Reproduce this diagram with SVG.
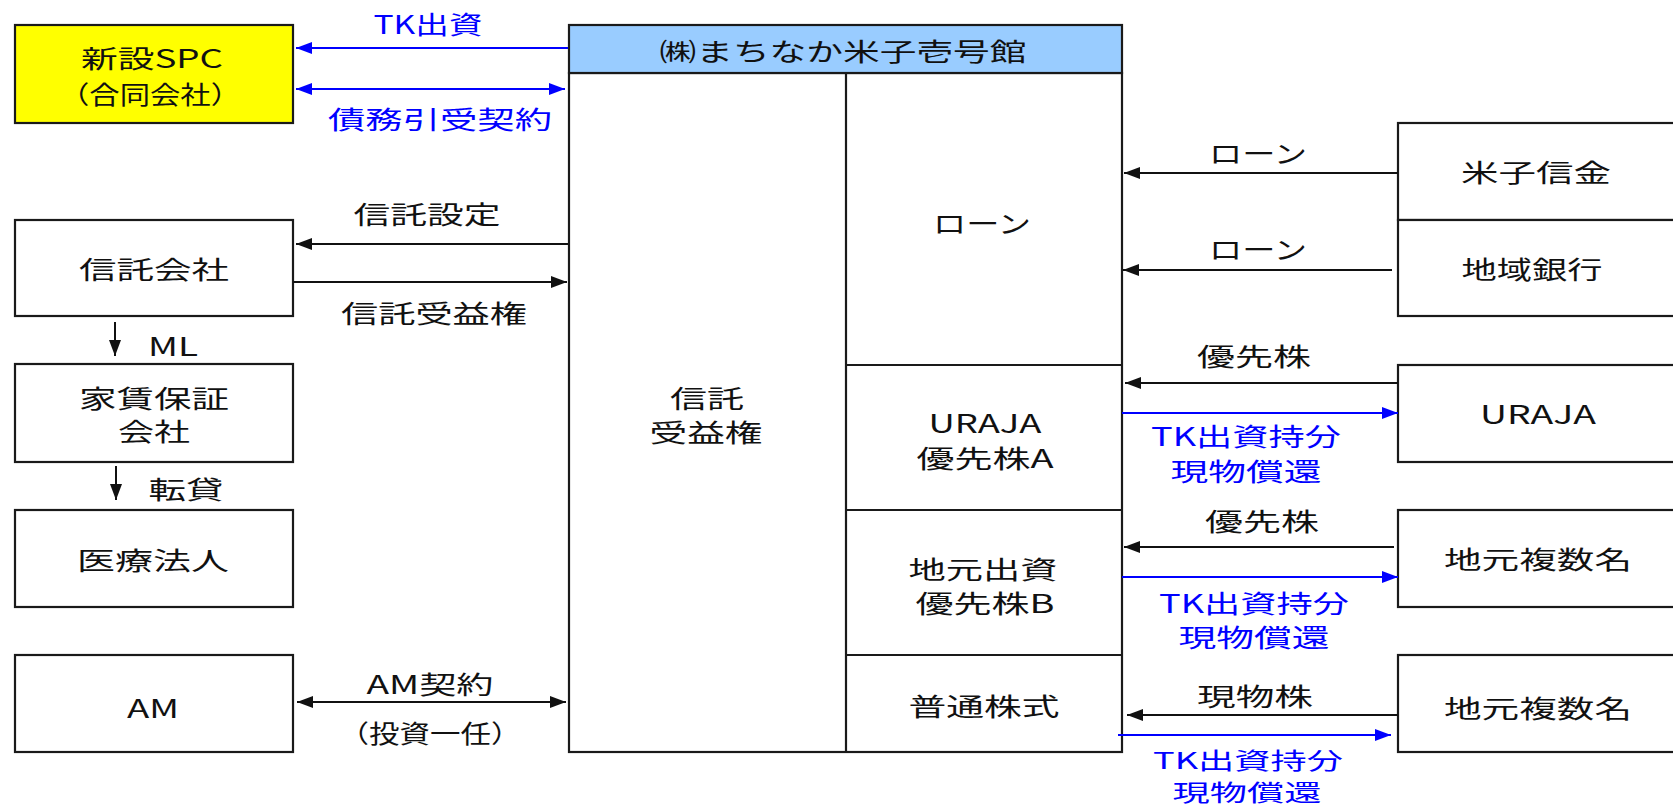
<svg xmlns="http://www.w3.org/2000/svg" width="1673" height="807" viewBox="0 0 1673 807">
<defs>
<style>
.box{fill:#fff;stroke:#1a1a1a;stroke-width:2.2}
.spc{fill:#ffff00;stroke:#1a1a1a;stroke-width:2.2}
.hdr{fill:#99ccff;stroke:#1a1a1a;stroke-width:2.2}
.ln{stroke:#1a1a1a;stroke-width:2.2;fill:none}
.t{font-family:"Noto Sans CJK JP","Noto Sans CJK SC",sans-serif;font-size:25px;fill:#111;text-anchor:middle;dominant-baseline:central}
.s{font-size:23px}
.b{fill:#0000ff}
.ak{stroke:#111;stroke-width:2;fill:none}
.ab{stroke:#0000ff;stroke-width:2;fill:none}
</style>
<marker id="mk" viewBox="0 0 16 12" refX="16" refY="6" markerWidth="16" markerHeight="12" markerUnits="userSpaceOnUse" orient="auto-start-reverse"><path d="M0,0 L16,6 L0,12 z" fill="#111"/></marker>
<marker id="mb" viewBox="0 0 16 12" refX="16" refY="6" markerWidth="16" markerHeight="12" markerUnits="userSpaceOnUse" orient="auto-start-reverse"><path d="M0,0 L16,6 L0,12 z" fill="#0000ff"/></marker>
</defs>
<rect width="1673" height="807" fill="#fff"/>

<g id="spc">
<rect class="spc" x="15" y="25" width="278" height="98"/>
<text class="t" x="152" y="57" textLength="142" lengthAdjust="spacingAndGlyphs">新設SPC</text>
<text class="t" x="150" y="93" textLength="182" lengthAdjust="spacingAndGlyphs">（合同会社）</text>
</g>

<g id="shintaku-kaisha">
<rect class="box" x="15" y="220" width="278" height="96"/>
<text class="t" x="154" y="268" textLength="150" lengthAdjust="spacingAndGlyphs">信託会社</text>
</g>

<g id="yachin-hosho">
<rect class="box" x="15" y="364" width="278" height="98"/>
<text class="t" x="154" y="397" textLength="150" lengthAdjust="spacingAndGlyphs">家賃保証</text>
<text class="t" x="154" y="430" textLength="72" lengthAdjust="spacingAndGlyphs">会社</text>
</g>

<g id="iryo-hojin">
<rect class="box" x="15" y="510" width="278" height="97"/>
<text class="t" x="153" y="559" textLength="152" lengthAdjust="spacingAndGlyphs">医療法人</text>
</g>

<g id="am">
<rect class="box" x="15" y="655" width="278" height="97"/>
<text class="t" x="153" y="707" textLength="52" lengthAdjust="spacingAndGlyphs">AM</text>
</g>

<g id="main">
<rect class="box" x="569" y="73" width="553" height="679"/>
<rect class="hdr" x="569" y="25" width="553" height="48"/>
<text class="t" x="843" y="50" textLength="367" lengthAdjust="spacingAndGlyphs">㈱まちなか米子壱号館</text>
<line class="ln" x1="846" y1="73" x2="846" y2="752"/>
<g id="trust-beneficiary">
<text class="t" x="707" y="397" textLength="74" lengthAdjust="spacingAndGlyphs">信託</text>
<text class="t" x="706" y="431" textLength="113" lengthAdjust="spacingAndGlyphs">受益権</text>
</g>
<g id="sec-loan">
<text class="t" x="982" y="222" textLength="98" lengthAdjust="spacingAndGlyphs">ローン</text>
</g>
<g id="sec-uraja">
<line class="ln" x1="846" y1="365" x2="1122" y2="365"/>
<text class="t" x="985" y="422" textLength="113" lengthAdjust="spacingAndGlyphs">URAJA</text>
<text class="t" x="985" y="457" textLength="137" lengthAdjust="spacingAndGlyphs">優先株A</text>
</g>
<g id="sec-jimoto">
<line class="ln" x1="846" y1="510" x2="1122" y2="510"/>
<text class="t" x="983" y="568" textLength="149" lengthAdjust="spacingAndGlyphs">地元出資</text>
<text class="t" x="985" y="602" textLength="139" lengthAdjust="spacingAndGlyphs">優先株B</text>
</g>
<g id="sec-common">
<line class="ln" x1="846" y1="655" x2="1122" y2="655"/>
<text class="t" x="984" y="705" textLength="151" lengthAdjust="spacingAndGlyphs">普通株式</text>
</g>
</g>

<g id="yonago-shinkin">
<rect class="box" x="1398" y="123" width="280" height="97"/>
<text class="t" x="1536" y="171" textLength="150" lengthAdjust="spacingAndGlyphs">米子信金</text>
</g>
<g id="chiiki-ginko">
<rect class="box" x="1398" y="220" width="280" height="96"/>
<text class="t" x="1532" y="268" textLength="141" lengthAdjust="spacingAndGlyphs">地域銀行</text>
</g>
<g id="uraja">
<rect class="box" x="1398" y="365" width="280" height="97"/>
<text class="t" x="1538" y="413" textLength="116" lengthAdjust="spacingAndGlyphs">URAJA</text>
</g>
<g id="jimoto-1">
<rect class="box" x="1398" y="510" width="280" height="97"/>
<text class="t" x="1538" y="558" textLength="188" lengthAdjust="spacingAndGlyphs">地元複数名</text>
</g>
<g id="jimoto-2">
<rect class="box" x="1398" y="655" width="280" height="97"/>
<text class="t" x="1538" y="707" textLength="188" lengthAdjust="spacingAndGlyphs">地元複数名</text>
</g>

<g id="connectors">
<line class="ab" x1="568" y1="48" x2="296" y2="48" marker-end="url(#mb)"/>
<text class="t b" x="428" y="23" textLength="109" lengthAdjust="spacingAndGlyphs">TK出資</text>
<line class="ab" x1="296" y1="89" x2="565" y2="89" marker-start="url(#mb)" marker-end="url(#mb)"/>
<text class="t b" x="440" y="118" textLength="224" lengthAdjust="spacingAndGlyphs">債務引受契約</text>

<line class="ak" x1="568" y1="244" x2="296" y2="244" marker-end="url(#mk)"/>
<text class="t" x="427" y="213" textLength="147" lengthAdjust="spacingAndGlyphs">信託設定</text>
<line class="ak" x1="293" y1="282" x2="567" y2="282" marker-end="url(#mk)"/>
<text class="t" x="434" y="312" textLength="186" lengthAdjust="spacingAndGlyphs">信託受益権</text>

<line class="ak" x1="115" y1="322" x2="115" y2="356" marker-end="url(#mk)"/>
<text class="t" x="173" y="345" textLength="50" lengthAdjust="spacingAndGlyphs">ML</text>
<line class="ak" x1="116" y1="466" x2="116" y2="500" marker-end="url(#mk)"/>
<text class="t" x="186" y="488" textLength="75" lengthAdjust="spacingAndGlyphs">転貸</text>

<line class="ak" x1="297" y1="702" x2="566" y2="702" marker-start="url(#mk)" marker-end="url(#mk)"/>
<text class="t" x="430" y="683" textLength="127" lengthAdjust="spacingAndGlyphs">AM契約</text>
<text class="t" x="430" y="732" textLength="183" lengthAdjust="spacingAndGlyphs">（投資一任）</text>

<line class="ak" x1="1398" y1="173" x2="1124" y2="173" marker-end="url(#mk)"/>
<text class="t" x="1258" y="152" textLength="98" lengthAdjust="spacingAndGlyphs">ローン</text>
<line class="ak" x1="1392" y1="270" x2="1123" y2="270" marker-end="url(#mk)"/>
<text class="t" x="1258" y="248" textLength="98" lengthAdjust="spacingAndGlyphs">ローン</text>

<line class="ak" x1="1398" y1="383" x2="1125" y2="383" marker-end="url(#mk)"/>
<text class="t" x="1254" y="355" textLength="114" lengthAdjust="spacingAndGlyphs">優先株</text>
<line class="ab" x1="1122" y1="413" x2="1398" y2="413" marker-end="url(#mb)"/>
<text class="t b" x="1246" y="435" textLength="190" lengthAdjust="spacingAndGlyphs">TK出資持分</text>
<text class="t b" x="1246" y="470" textLength="151" lengthAdjust="spacingAndGlyphs">現物償還</text>

<line class="ak" x1="1394" y1="547" x2="1124" y2="547" marker-end="url(#mk)"/>
<text class="t" x="1262" y="520" textLength="114" lengthAdjust="spacingAndGlyphs">優先株</text>
<line class="ab" x1="1122" y1="577" x2="1398" y2="577" marker-end="url(#mb)"/>
<text class="t b" x="1254" y="602" textLength="190" lengthAdjust="spacingAndGlyphs">TK出資持分</text>
<text class="t b" x="1254" y="636" textLength="151" lengthAdjust="spacingAndGlyphs">現物償還</text>

<line class="ak" x1="1398" y1="715" x2="1127" y2="715" marker-end="url(#mk)"/>
<text class="t" x="1255" y="695" textLength="116" lengthAdjust="spacingAndGlyphs">現物株</text>
<line class="ab" x1="1118" y1="735" x2="1391" y2="735" marker-end="url(#mb)"/>
<text class="t b s" x="1248" y="759" textLength="190" lengthAdjust="spacingAndGlyphs">TK出資持分</text>
<text class="t b s" x="1247" y="791" textLength="149" lengthAdjust="spacingAndGlyphs">現物償還</text>
</g>
</svg>
